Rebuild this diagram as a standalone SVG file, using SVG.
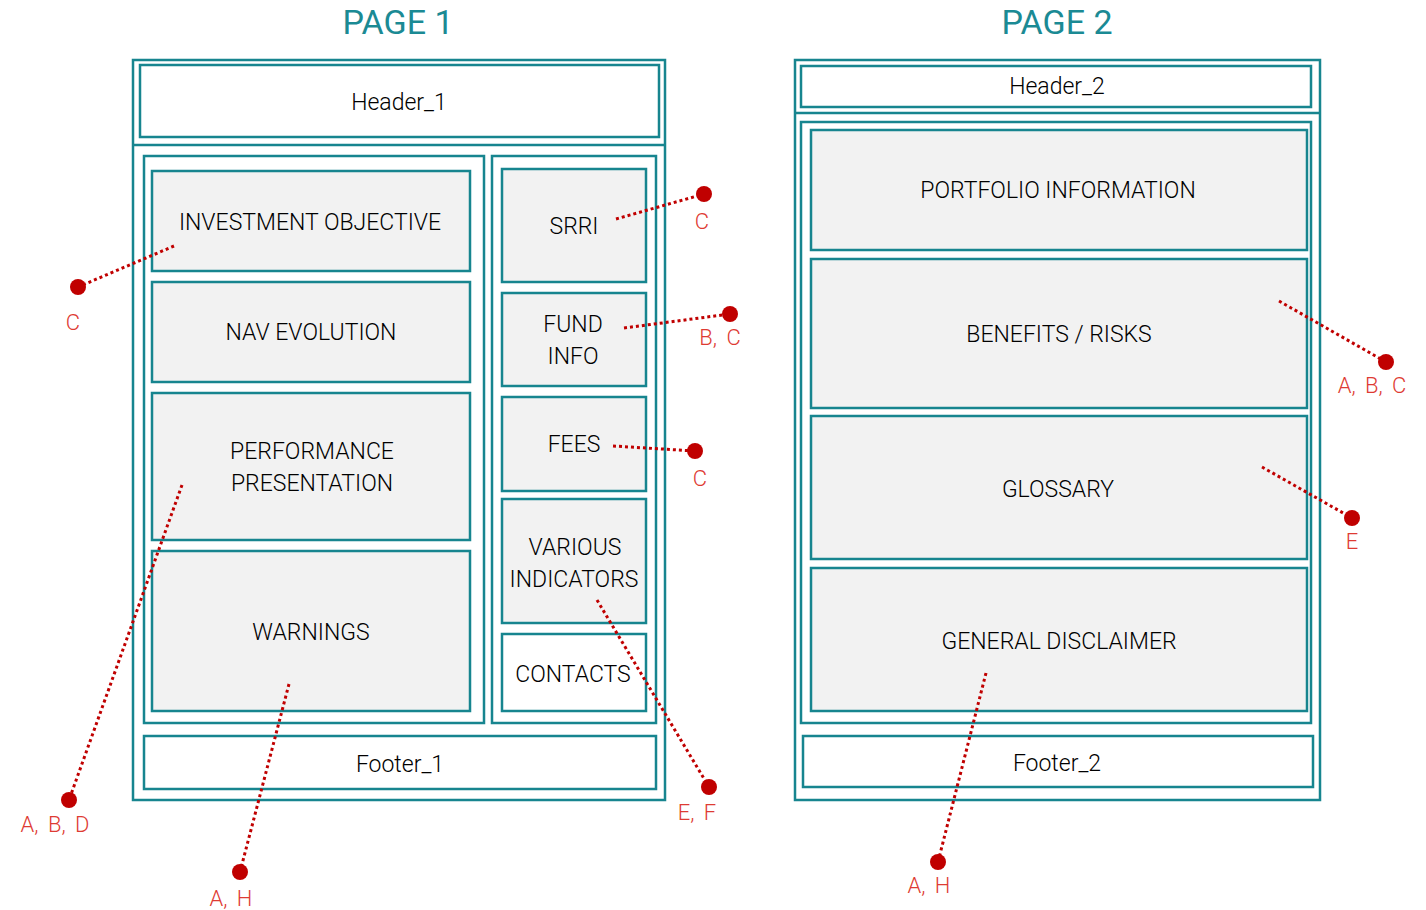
<svg xmlns="http://www.w3.org/2000/svg" width="1426" height="910" viewBox="0 0 1426 910">
<style>
.frame{fill:#ffffff;stroke:#17858f;stroke-width:2.5}
.box{fill:#f2f2f2;stroke:#17858f;stroke-width:2.5}
.wbox{fill:#ffffff;stroke:#17858f;stroke-width:2.5}
.sep{stroke:#17858f;stroke-width:2.5}
.t{font-family:Roboto,"Liberation Sans",sans-serif;font-size:23px;font-weight:300;fill:#000000;text-anchor:middle;dominant-baseline:central}
.title{font-family:Roboto,"Liberation Sans",sans-serif;font-size:34px;font-weight:400;fill:#1b8a94;text-anchor:middle}
.lbl{font-family:Roboto,"Liberation Sans",sans-serif;font-size:22px;font-weight:300;fill:#de3b33;text-anchor:middle;dominant-baseline:central;word-spacing:4px}
.dl{stroke:#c00000;stroke-width:3;stroke-dasharray:3 3;fill:none}
.dot{fill:#c00000}
</style>
<rect width="1426" height="910" fill="#ffffff"/>
<text class="title" x="398" y="34">PAGE 1</text>
<text class="title" x="1057" y="34">PAGE 2</text>

<g id="page1">
<rect class="frame" x="133" y="60" width="532" height="740"/>
<line class="sep" x1="133" y1="145" x2="665" y2="145"/>
<rect class="frame" x="144" y="156" width="340" height="567"/>
<rect class="frame" x="492" y="156" width="164" height="567"/>
</g>
<g id="header1"><rect class="wbox" x="140" y="65" width="519" height="72"/><text class="t" x="399" y="102">Header_1</text></g>
<g id="investment-objective"><rect class="box" x="152" y="171" width="318" height="100"/><text class="t" x="310" y="222">INVESTMENT OBJECTIVE</text></g>
<g id="nav-evolution"><rect class="box" x="152" y="282" width="318" height="100"/><text class="t" x="311" y="332">NAV EVOLUTION</text></g>
<g id="performance-presentation"><rect class="box" x="152" y="393" width="318" height="147"/><text class="t" x="312" y="451">PERFORMANCE</text><text class="t" x="312" y="483">PRESENTATION</text></g>
<g id="warnings"><rect class="box" x="152" y="551" width="318" height="160"/><text class="t" x="311" y="632">WARNINGS</text></g>
<g id="srri"><rect class="box" x="502" y="169" width="144" height="113"/><text class="t" x="574" y="226">SRRI</text></g>
<g id="fund-info"><rect class="box" x="502" y="293" width="144" height="93"/><text class="t" x="573" y="324">FUND</text><text class="t" x="573" y="356">INFO</text></g>
<g id="fees"><rect class="box" x="502" y="397" width="144" height="94"/><text class="t" x="574" y="444">FEES</text></g>
<g id="various-indicators"><rect class="box" x="502" y="499" width="144" height="124"/><text class="t" x="575" y="547">VARIOUS</text><text class="t" x="574" y="579">INDICATORS</text></g>
<g id="contacts"><rect class="wbox" x="502" y="634" width="144" height="77"/><text class="t" x="573" y="674">CONTACTS</text></g>
<g id="footer1"><rect class="wbox" x="144" y="736" width="512" height="53"/><text class="t" x="400" y="764">Footer_1</text></g>

<g id="page2">
<rect class="frame" x="795" y="60" width="525" height="740"/>
<line class="sep" x1="795" y1="113" x2="1320" y2="113"/>
<rect class="frame" x="801" y="122" width="510" height="601"/>
</g>
<g id="header2"><rect class="wbox" x="801" y="66" width="510" height="41"/><text class="t" x="1057" y="86">Header_2</text></g>
<g id="portfolio-information"><rect class="box" x="811" y="130" width="496" height="120"/><text class="t" x="1058" y="190">PORTFOLIO INFORMATION</text></g>
<g id="benefits-risks"><rect class="box" x="811" y="259" width="496" height="149"/><text class="t" x="1059" y="334">BENEFITS / RISKS</text></g>
<g id="glossary"><rect class="box" x="811" y="416" width="496" height="143"/><text class="t" x="1058" y="489">GLOSSARY</text></g>
<g id="general-disclaimer"><rect class="box" x="811" y="568" width="496" height="143"/><text class="t" x="1059" y="641">GENERAL DISCLAIMER</text></g>
<g id="footer2"><rect class="wbox" x="803" y="736" width="510" height="51"/><text class="t" x="1057" y="763">Footer_2</text></g>

<g id="connectors">
<line class="dl" x1="174" y1="246" x2="78" y2="287"/><circle class="dot" cx="78" cy="287" r="8"/>
<line class="dl" x1="616" y1="219" x2="704" y2="194"/><circle class="dot" cx="704" cy="194" r="8"/>
<line class="dl" x1="624" y1="328" x2="730" y2="314"/><circle class="dot" cx="730" cy="314" r="8"/>
<line class="dl" x1="613" y1="446" x2="695" y2="451"/><circle class="dot" cx="695" cy="451" r="8"/>
<line class="dl" x1="182" y1="485" x2="69" y2="800"/><circle class="dot" cx="69" cy="800" r="8"/>
<line class="dl" x1="289" y1="684" x2="240" y2="872"/><circle class="dot" cx="240" cy="872" r="8"/>
<line class="dl" x1="597" y1="600" x2="709" y2="787"/><circle class="dot" cx="709" cy="787" r="8"/>
<line class="dl" x1="1279" y1="301" x2="1386" y2="362"/><circle class="dot" cx="1386" cy="362" r="8"/>
<line class="dl" x1="1262" y1="467" x2="1352" y2="518"/><circle class="dot" cx="1352" cy="518" r="8"/>
<line class="dl" x1="986" y1="673" x2="938" y2="862"/><circle class="dot" cx="938" cy="862" r="8"/>
</g>
<g id="labels">
<text class="lbl" x="73" y="322">C</text>
<text class="lbl" x="702" y="221">C</text>
<text class="lbl" x="720" y="337">B, C</text>
<text class="lbl" x="700" y="478">C</text>
<text class="lbl" x="55" y="824">A, B, D</text>
<text class="lbl" x="231" y="898">A, H</text>
<text class="lbl" x="697" y="812">E, F</text>
<text class="lbl" x="1372" y="385">A, B, C</text>
<text class="lbl" x="1352" y="541">E</text>
<text class="lbl" x="929" y="885">A, H</text>
</g>
</svg>
